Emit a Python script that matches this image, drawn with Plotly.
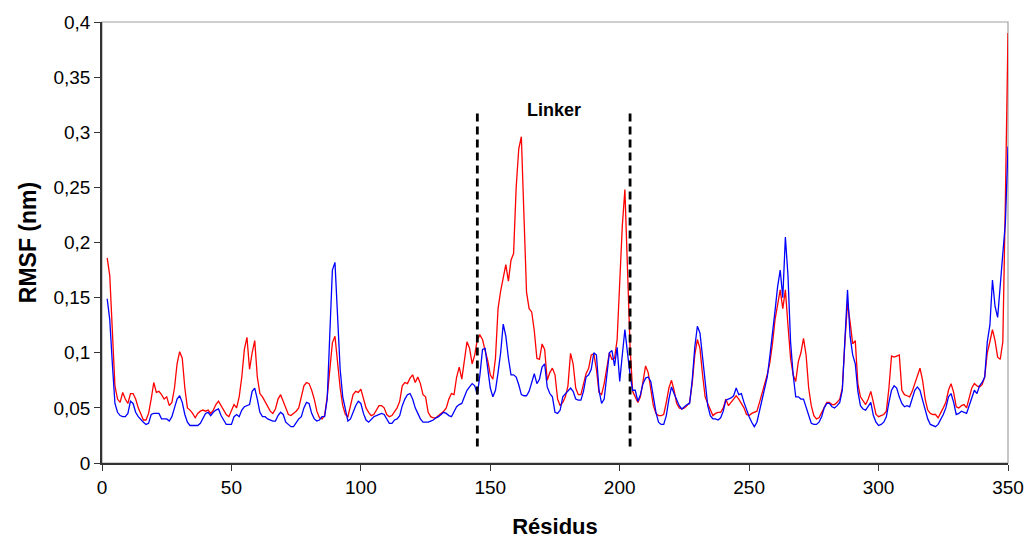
import plotly.graph_objects as go

start_residue = 2
red_rmsf = [
0.186,0.170,0.120,0.070,0.058,0.055,0.064,0.058,0.054,0.063,
0.063,0.058,0.050,0.044,0.039,0.039,0.045,0.058,0.073,0.064,
0.065,0.062,0.058,0.060,0.052,0.055,0.068,0.090,0.101,0.095,
0.068,0.050,0.048,0.045,0.041,0.045,0.047,0.048,0.047,0.048,
0.045,0.048,0.053,0.056,0.052,0.049,0.044,0.042,0.048,0.053,
0.050,0.060,0.078,0.103,0.114,0.085,0.100,0.111,0.078,0.063,
0.060,0.056,0.052,0.047,0.045,0.049,0.058,0.062,0.056,0.050,
0.044,0.043,0.045,0.047,0.050,0.060,0.070,0.073,0.072,0.066,
0.058,0.047,0.041,0.040,0.043,0.060,0.085,0.109,0.115,0.090,
0.068,0.052,0.044,0.042,0.052,0.062,0.065,0.064,0.067,0.058,
0.050,0.046,0.043,0.044,0.048,0.052,0.052,0.050,0.044,0.042,
0.043,0.046,0.050,0.056,0.070,0.073,0.072,0.077,0.080,0.073,
0.078,0.072,0.062,0.060,0.046,0.042,0.041,0.041,0.043,0.045,
0.047,0.050,0.058,0.063,0.062,0.078,0.087,0.076,0.092,0.110,
0.104,0.090,0.098,0.112,0.116,0.112,0.102,0.093,0.080,0.076,
0.095,0.140,0.156,0.168,0.180,0.165,0.184,0.190,0.250,0.285,
0.296,0.225,0.155,0.140,0.137,0.120,0.095,0.094,0.108,0.103,
0.075,0.082,0.086,0.080,0.058,0.052,0.055,0.060,0.070,0.0995,
0.090,0.068,0.062,0.062,0.072,0.081,0.086,0.098,0.099,0.085,
0.064,0.062,0.072,0.085,0.100,0.094,0.095,0.112,0.160,0.215,
0.248,0.185,0.105,0.065,0.060,0.055,0.060,0.075,0.088,0.082,
0.065,0.052,0.045,0.043,0.043,0.044,0.055,0.068,0.075,0.066,
0.054,0.050,0.049,0.050,0.052,0.055,0.072,0.098,0.112,0.104,
0.080,0.060,0.054,0.048,0.043,0.045,0.046,0.046,0.050,0.058,
0.052,0.055,0.058,0.061,0.058,0.054,0.050,0.044,0.043,0.045,
0.046,0.047,0.055,0.063,0.070,0.080,0.091,0.108,0.130,0.145,
0.157,0.140,0.157,0.125,0.095,0.080,0.074,0.092,0.100,0.113,
0.098,0.068,0.052,0.043,0.040,0.041,0.046,0.050,0.055,0.055,
0.053,0.053,0.055,0.058,0.068,0.110,0.145,0.128,0.108,0.111,
0.072,0.060,0.056,0.053,0.058,0.065,0.055,0.044,0.042,0.043,
0.044,0.047,0.068,0.097,0.096,0.097,0.098,0.066,0.062,0.061,
0.060,0.065,0.072,0.080,0.086,0.075,0.058,0.048,0.045,0.044,
0.044,0.041,0.045,0.050,0.055,0.066,0.072,0.064,0.051,0.050,
0.052,0.053,0.050,0.060,0.068,0.072,0.070,0.069,0.071,0.078,
0.100,0.110,0.121,0.111,0.096,0.094,0.110,0.240,0.390,
]
blue_rmsf = [
0.149,0.130,0.090,0.054,0.046,0.043,0.042,0.042,0.045,0.056,
0.054,0.046,0.042,0.039,0.037,0.035,0.036,0.044,0.045,0.045,
0.045,0.040,0.040,0.040,0.038,0.042,0.050,0.058,0.061,0.055,
0.044,0.037,0.034,0.034,0.034,0.034,0.036,0.040,0.045,0.046,
0.043,0.046,0.048,0.049,0.043,0.039,0.035,0.035,0.035,0.042,
0.044,0.042,0.048,0.051,0.052,0.053,0.065,0.068,0.058,0.046,
0.042,0.042,0.040,0.039,0.038,0.038,0.043,0.046,0.044,0.037,
0.035,0.033,0.033,0.037,0.040,0.042,0.050,0.055,0.054,0.045,
0.040,0.038,0.039,0.042,0.042,0.058,0.115,0.175,0.182,0.135,
0.085,0.060,0.048,0.038,0.040,0.046,0.052,0.056,0.054,0.045,
0.039,0.037,0.040,0.042,0.043,0.044,0.045,0.044,0.040,0.036,
0.036,0.039,0.040,0.043,0.052,0.058,0.062,0.063,0.058,0.050,
0.045,0.040,0.037,0.037,0.037,0.038,0.039,0.041,0.042,0.044,
0.046,0.045,0.043,0.042,0.046,0.051,0.053,0.054,0.060,0.066,
0.069,0.072,0.070,0.062,0.080,0.103,0.104,0.085,0.068,0.060,
0.066,0.082,0.100,0.126,0.115,0.095,0.080,0.080,0.078,0.071,
0.062,0.061,0.061,0.065,0.072,0.081,0.072,0.076,0.087,0.090,
0.069,0.063,0.060,0.046,0.045,0.048,0.060,0.063,0.065,0.068,
0.065,0.058,0.057,0.057,0.065,0.078,0.080,0.085,0.100,0.098,
0.066,0.054,0.058,0.080,0.100,0.102,0.088,0.105,0.074,0.098,
0.121,0.100,0.080,0.066,0.066,0.056,0.062,0.072,0.077,0.078,
0.074,0.060,0.046,0.037,0.035,0.035,0.043,0.058,0.069,0.063,
0.057,0.052,0.049,0.051,0.053,0.054,0.075,0.105,0.124,0.118,
0.095,0.072,0.052,0.043,0.040,0.040,0.039,0.041,0.047,0.057,
0.058,0.059,0.061,0.068,0.062,0.063,0.055,0.048,0.042,0.037,
0.033,0.037,0.048,0.058,0.067,0.078,0.097,0.115,0.138,0.160,
0.175,0.150,0.205,0.170,0.110,0.080,0.060,0.060,0.058,0.058,
0.050,0.042,0.036,0.035,0.035,0.037,0.042,0.050,0.054,0.054,
0.051,0.050,0.052,0.055,0.066,0.112,0.157,0.115,0.098,0.090,
0.065,0.052,0.049,0.048,0.052,0.055,0.043,0.037,0.034,0.035,
0.037,0.042,0.055,0.066,0.070,0.068,0.060,0.054,0.051,0.052,
0.051,0.058,0.066,0.069,0.066,0.057,0.047,0.040,0.035,0.034,
0.033,0.035,0.039,0.044,0.050,0.060,0.063,0.055,0.044,0.045,
0.047,0.046,0.045,0.052,0.060,0.066,0.063,0.070,0.073,0.078,
0.110,0.125,0.166,0.142,0.132,0.165,0.190,0.218,0.287,
]
residues = list(range(start_residue, start_residue + len(red_rmsf)))

linker_bounds = [145, 204]
linker_line_y = [0.015, 0.32]
linker_label = "Linker"

x_ticks = [0, 50, 100, 150, 200, 250, 300, 350]
y_ticks = [0, 0.05, 0.1, 0.15, 0.2, 0.25, 0.3, 0.35, 0.4]
y_ticklabels = ["0", "0,05", "0,1", "0,15", "0,2", "0,25", "0,3", "0,35", "0,4"]

font_family = "Liberation Sans, Arial, sans-serif"

fig = go.Figure()
fig.add_trace(go.Scatter(x=residues, y=red_rmsf, mode="lines",
                         line=dict(color="#FF0000", width=1.3), showlegend=False))
fig.add_trace(go.Scatter(x=residues[:len(blue_rmsf)], y=blue_rmsf, mode="lines",
                         line=dict(color="#0000FF", width=1.3), showlegend=False))

# plot area frame (grey) on top/right
fig.add_shape(type="rect", xref="paper", yref="paper", x0=0, x1=1, y0=0, y1=1,
              line=dict(color="#A0A0A0", width=1.2), layer="below")

for xb in linker_bounds:
    fig.add_shape(type="line", xref="x", yref="y", x0=xb, x1=xb,
                  y0=linker_line_y[0], y1=linker_line_y[1],
                  line=dict(color="black", width=2.8, dash="8px,5px"))

fig.add_annotation(x=sum(linker_bounds) / 2, y=linker_line_y[1], text="<b>%s</b>" % linker_label,
                   showarrow=False, xanchor="center", yanchor="middle",
                   font=dict(family=font_family, size=18, color="black"))

fig.update_layout(
    width=1027, height=539,
    margin=dict(l=102, r=19, t=22, b=76, autoexpand=False),
    paper_bgcolor="white", plot_bgcolor="white",
    font=dict(family=font_family, color="black", size=19),
    xaxis=dict(range=[0, 350], tickvals=x_ticks, ticks="outside", ticklen=6,
               tickwidth=1.3, tickcolor="#333333", showline=True, linecolor="#333333",
               linewidth=1.6, showgrid=False, zeroline=False, automargin=False,
               tickfont=dict(size=19),
               title=dict(text="<b>Résidus</b>", font=dict(size=22), standoff=26)),
    yaxis=dict(range=[0, 0.4], tickvals=y_ticks, ticktext=y_ticklabels, ticks="outside",
               ticklen=6, tickwidth=1.3, tickcolor="#333333", showline=True,
               linecolor="#333333", linewidth=1.6, showgrid=False, zeroline=False,
               automargin=False, tickfont=dict(size=19),
               title=dict(text="<b>RMSF (nm)</b>", font=dict(size=23), standoff=10)),
)

fig.write_html("out.html", config={"displayModeBar": False},
               post_script="document.body.style.margin='0';")
